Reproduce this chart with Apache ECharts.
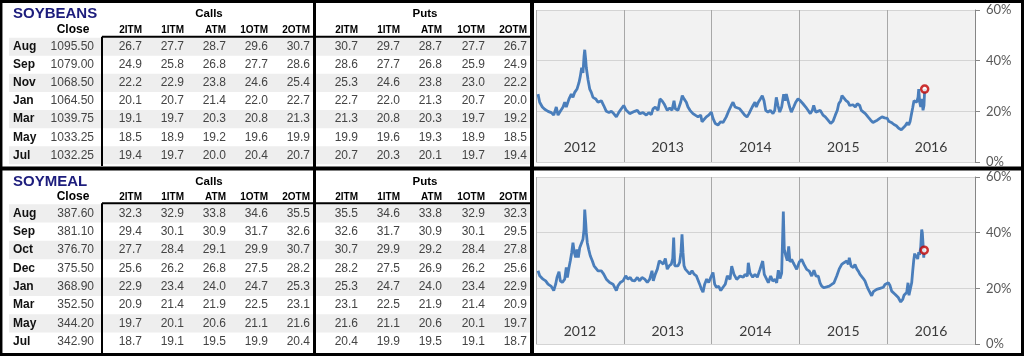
<!DOCTYPE html>
<html><head><meta charset="utf-8">
<script src="https://cdn.jsdelivr.net/npm/echarts@6/dist/echarts.min.js"></script>
<style>html,body{margin:0;padding:0;background:#fff}#c{width:1024px;height:356px}</style>
</head><body><div id="c"></div>
<script>
const strikeLabels = ['2ITM', '1ITM', 'ATM', '1OTM', '2OTM'];
const yearLabels = ['2012', '2013', '2014', '2015', '2016'];

const soybeanMonths = ['Aug', 'Sep', 'Nov', 'Jan', 'Mar', 'May', 'Jul'];
const soybeanClose = [1095.50, 1079.00, 1068.50, 1064.50, 1039.75, 1033.25, 1032.25];
const soybeanCalls = [
  [26.7, 27.7, 28.7, 29.6, 30.7],
  [24.9, 25.8, 26.8, 27.7, 28.6],
  [22.2, 22.9, 23.8, 24.6, 25.4],
  [20.1, 20.7, 21.4, 22.0, 22.7],
  [19.1, 19.7, 20.3, 20.8, 21.3],
  [18.5, 18.9, 19.2, 19.6, 19.9],
  [19.4, 19.7, 20.0, 20.4, 20.7]
];
const soybeanPuts = [
  [30.7, 29.7, 28.7, 27.7, 26.7],
  [28.6, 27.7, 26.8, 25.9, 24.9],
  [25.3, 24.6, 23.8, 23.0, 22.2],
  [22.7, 22.0, 21.3, 20.7, 20.0],
  [21.3, 20.8, 20.3, 19.7, 19.2],
  [19.9, 19.6, 19.3, 18.9, 18.5],
  [20.7, 20.3, 20.1, 19.7, 19.4]
];

const soymealMonths = ['Aug', 'Sep', 'Oct', 'Dec', 'Jan', 'Mar', 'May', 'Jul'];
const soymealClose = [387.60, 381.10, 376.70, 375.50, 368.90, 352.50, 344.20, 342.90];
const soymealCalls = [
  [32.3, 32.9, 33.8, 34.6, 35.5],
  [29.4, 30.1, 30.9, 31.7, 32.6],
  [27.7, 28.4, 29.1, 29.9, 30.7],
  [25.6, 26.2, 26.8, 27.5, 28.2],
  [22.9, 23.4, 24.0, 24.7, 25.3],
  [20.9, 21.4, 21.9, 22.5, 23.1],
  [19.7, 20.1, 20.6, 21.1, 21.6],
  [18.7, 19.1, 19.5, 19.9, 20.4]
];
const soymealPuts = [
  [35.5, 34.6, 33.8, 32.9, 32.3],
  [32.6, 31.7, 30.9, 30.1, 29.5],
  [30.7, 29.9, 29.2, 28.4, 27.8],
  [28.2, 27.5, 26.9, 26.2, 25.6],
  [25.3, 24.7, 24.0, 23.4, 22.9],
  [23.1, 22.5, 21.9, 21.4, 20.9],
  [21.6, 21.1, 20.6, 20.1, 19.7],
  [20.4, 19.9, 19.5, 19.1, 18.7]
];

// implied volatility history, [decimal year, %]
const soybeansVol = [
[2012.023,26.8],[2012.042,23.6],[2012.072,21.7],[2012.099,20.8],[2012.137,20.0],[2012.174,19.5],[2012.202,18.5],[2012.231,21.7],[2012.251,18.5],[2012.277,20.0],[2012.308,21.7],[2012.327,23.6],[2012.345,21.7],[2012.376,24.9],[2012.402,26.8],[2012.421,25.5],[2012.441,27.5],[2012.467,28.8],[2012.490,31.4],[2012.505,33.9],[2012.520,37.2],[2012.535,35.2],[2012.547,41.7],[2012.555,44.3],[2012.566,40.4],[2012.573,37.2],[2012.592,32.6],[2012.612,28.8],[2012.630,27.5],[2012.649,25.5],[2012.680,24.9],[2012.706,23.6],[2012.744,24.2],[2012.771,22.3],[2012.801,20.0],[2012.831,19.5],[2012.858,20.0],[2012.885,19.1],[2012.915,17.8],[2012.945,19.7],[2012.972,21.0],[2012.999,22.3],
[2013.028,20.4],[2013.067,19.1],[2013.085,18.7],[2013.124,20.0],[2013.154,20.4],[2013.181,19.1],[2013.219,19.5],[2013.256,18.5],[2013.284,19.5],[2013.313,18.7],[2013.333,21.0],[2013.359,21.7],[2013.390,20.4],[2013.412,24.9],[2013.435,24.2],[2013.458,23.0],[2013.473,23.6],[2013.495,20.4],[2013.523,21.3],[2013.549,20.4],[2013.572,24.2],[2013.587,21.0],[2013.617,20.4],[2013.648,23.6],[2013.666,26.2],[2013.686,24.9],[2013.712,23.6],[2013.731,21.7],[2013.754,20.4],[2013.769,21.0],[2013.788,19.1],[2013.814,18.5],[2013.845,17.8],[2013.876,18.5],[2013.891,15.9],[2013.913,16.5],[2013.940,17.8],[2013.967,18.5],[2013.997,19.7],
[2014.016,17.2],[2014.042,15.2],[2014.073,14.6],[2014.104,15.9],[2014.130,15.6],[2014.149,15.2],[2014.167,17.8],[2014.198,20.4],[2014.224,22.3],[2014.244,23.6],[2014.267,21.7],[2014.289,22.3],[2014.320,21.0],[2014.350,19.7],[2014.377,18.5],[2014.403,17.8],[2014.426,19.1],[2014.452,21.0],[2014.472,22.3],[2014.494,23.6],[2014.509,21.7],[2014.532,23.6],[2014.555,24.9],[2014.577,26.2],[2014.597,24.2],[2014.616,20.4],[2014.642,19.7],[2014.669,20.4],[2014.699,19.1],[2014.719,20.4],[2014.737,25.5],[2014.756,22.3],[2014.776,19.7],[2014.798,21.7],[2014.821,26.8],[2014.836,24.2],[2014.851,26.8],[2014.870,24.2],[2014.889,21.7],[2014.908,19.7],[2014.935,21.7],[2014.958,23.6],[2014.984,24.9],
[2015.010,24.2],[2015.041,23.0],[2015.072,21.7],[2015.098,20.4],[2015.124,19.1],[2015.147,20.4],[2015.163,22.3],[2015.186,19.7],[2015.238,20.4],[2015.269,18.5],[2015.295,17.8],[2015.326,16.5],[2015.356,15.2],[2015.383,16.1],[2015.409,18.5],[2015.432,20.4],[2015.448,23.0],[2015.470,24.2],[2015.485,26.2],[2015.508,25.2],[2015.531,24.2],[2015.554,23.6],[2015.573,22.3],[2015.591,21.7],[2015.610,22.6],[2015.637,21.7],[2015.659,23.0],[2015.687,22.3],[2015.705,20.4],[2015.724,21.0],[2015.751,19.1],[2015.781,17.8],[2015.812,16.5],[2015.838,15.6],[2015.864,16.1],[2015.887,16.5],[2015.915,17.2],[2015.941,17.8],[2015.971,17.4],
[2016.001,17.2],[2016.017,16.1],[2016.047,15.6],[2016.077,14.8],[2016.104,14.3],[2016.131,13.3],[2016.161,12.7],[2016.183,13.3],[2016.206,14.3],[2016.229,15.6],[2016.245,14.6],[2016.260,15.9],[2016.274,18.5],[2016.290,21.3],[2016.305,24.2],[2016.320,24.9],[2016.336,23.6],[2016.351,25.5],[2016.359,28.8],[2016.370,23.6],[2016.382,21.7],[2016.396,24.9],[2016.408,20.4],[2016.419,22.3],[2016.427,28.8]
];
const soymealVol = [
[2012.023,26.3],[2012.042,24.5],[2012.060,25.1],[2012.080,23.3],[2012.110,22.7],[2012.137,21.5],[2012.174,20.7],[2012.202,19.2],[2012.224,21.5],[2012.239,23.9],[2012.262,26.0],[2012.277,22.7],[2012.300,22.1],[2012.327,23.3],[2012.345,27.5],[2012.357,23.9],[2012.376,27.5],[2012.391,29.9],[2012.407,32.9],[2012.421,36.4],[2012.436,32.9],[2012.452,31.1],[2012.467,34.0],[2012.482,31.1],[2012.498,34.6],[2012.516,35.2],[2012.535,37.6],[2012.547,41.2],[2012.555,48.3],[2012.566,43.6],[2012.573,40.0],[2012.584,36.4],[2012.600,34.0],[2012.618,31.7],[2012.641,29.9],[2012.661,28.1],[2012.680,27.5],[2012.706,26.3],[2012.744,26.3],[2012.771,25.1],[2012.801,23.3],[2012.839,22.1],[2012.877,21.5],[2012.915,19.2],[2012.934,20.9],[2012.960,22.1],[2012.991,22.7],
[2013.022,24.5],[2013.048,23.3],[2013.074,23.9],[2013.093,22.9],[2013.124,22.7],[2013.154,23.9],[2013.181,22.7],[2013.207,23.9],[2013.238,23.3],[2013.268,22.1],[2013.295,23.3],[2013.321,26.3],[2013.336,22.7],[2013.359,25.1],[2013.382,26.9],[2013.404,29.9],[2013.427,29.3],[2013.450,28.7],[2013.473,30.7],[2013.495,26.9],[2013.518,28.1],[2013.541,28.7],[2013.557,30.7],[2013.568,38.2],[2013.580,28.1],[2013.595,27.5],[2013.617,28.1],[2013.636,29.3],[2013.651,32.9],[2013.663,39.4],[2013.674,32.9],[2013.686,28.1],[2013.701,26.9],[2013.723,26.3],[2013.751,25.1],[2013.777,26.3],[2013.800,25.1],[2013.826,24.5],[2013.845,24.8],[2013.864,21.5],[2013.883,19.8],[2013.902,18.6],[2013.921,21.5],[2013.944,23.3],[2013.967,22.1],[2013.990,23.9],
[2014.016,25.7],[2014.035,21.5],[2014.053,20.4],[2014.081,20.7],[2014.104,19.2],[2014.130,20.4],[2014.156,21.5],[2014.179,24.5],[2014.210,23.2],[2014.229,28.0],[2014.255,25.0],[2014.286,23.2],[2014.323,24.4],[2014.361,24.0],[2014.380,25.0],[2014.407,24.4],[2014.418,29.2],[2014.437,25.5],[2014.468,24.0],[2014.494,25.0],[2014.521,24.0],[2014.551,26.8],[2014.582,29.8],[2014.600,25.0],[2014.628,23.2],[2014.646,22.0],[2014.673,24.4],[2014.696,22.6],[2014.722,23.2],[2014.741,22.0],[2014.760,26.5],[2014.779,23.5],[2014.798,25.5],[2014.817,47.6],[2014.828,34.0],[2014.847,31.5],[2014.862,30.0],[2014.878,35.1],[2014.893,29.5],[2014.912,30.4],[2014.930,29.2],[2014.950,28.0],[2014.969,26.8],[2014.999,29.5],
[2015.026,30.4],[2015.052,28.6],[2015.083,26.8],[2015.113,26.2],[2015.140,24.4],[2015.166,26.5],[2015.189,24.4],[2015.215,24.4],[2015.235,22.0],[2015.254,20.8],[2015.280,20.2],[2015.311,20.5],[2015.341,20.8],[2015.368,21.4],[2015.394,22.0],[2015.425,24.4],[2015.454,27.0],[2015.482,28.6],[2015.508,29.2],[2015.539,29.8],[2015.557,28.6],[2015.568,31.0],[2015.588,28.0],[2015.614,27.5],[2015.633,28.6],[2015.653,27.0],[2015.671,26.2],[2015.690,25.0],[2015.710,24.4],[2015.728,23.5],[2015.747,22.6],[2015.766,21.0],[2015.785,19.6],[2015.804,18.5],[2015.823,17.3],[2015.842,18.8],[2015.861,18.5],[2015.880,19.6],[2015.899,20.2],[2015.918,20.0],[2015.937,19.6],[2015.956,20.4],[2015.975,21.4],[2015.994,22.0],
[2016.013,22.0],[2016.032,21.0],[2016.051,19.0],[2016.069,18.5],[2016.089,17.9],[2016.108,17.3],[2016.126,16.7],[2016.154,15.1],[2016.177,16.0],[2016.191,17.5],[2016.206,17.9],[2016.222,18.5],[2016.237,22.0],[2016.248,17.5],[2016.263,17.3],[2016.279,22.0],[2016.290,26.0],[2016.302,30.0],[2016.313,32.5],[2016.325,31.0],[2016.336,32.0],[2016.347,30.5],[2016.359,33.0],[2016.370,32.0],[2016.382,35.0],[2016.393,41.1],[2016.400,40.0],[2016.408,36.0],[2016.416,31.0],[2016.422,33.7]
];

const FONT = '"Liberation Sans", Arial, sans-serif';
const CHART_FONT = 'Lato, "Open Sans", sans-serif';
const callRight = [142, 184, 226, 268, 310];
const putRight = [358, 400, 442, 485, 527];
const els = [];
function txt(x, y, s, opt) {
  els.push({ type: 'text', x: x, y: y, z: 10, silent: true,
    style: Object.assign({ text: s, fill: '#444444', font: '12px ' + FONT, align: 'right', verticalAlign: 'middle' }, opt || {}) });
}
function line(x1, y1, x2, y2, w) {
  els.push({ type: 'line', z: 20, silent: true, shape: { x1: x1, y1: y1, x2: x2, y2: y2 }, style: { stroke: '#000', lineWidth: w } });
}
function rect(x, y, w, h, fill) {
  els.push({ type: 'rect', z: 5, silent: true, shape: { x: x, y: y, width: w, height: h }, style: { fill: fill } });
}
function table(p) {
  txt(13, p.titleY, p.title, { fill: '#1c1c7c', font: 'bold 15px ' + FONT, align: 'left' });
  txt(209, p.titleY, 'Calls', { fill: '#000', font: 'bold 11.5px ' + FONT, align: 'center' });
  txt(425, p.titleY, 'Puts', { fill: '#000', font: 'bold 11.5px ' + FONT, align: 'center' });
  txt(73, p.headY, 'Close', { fill: '#000', font: 'bold 12px ' + FONT, align: 'center' });
  strikeLabels.forEach(function (s, i) {
    txt(callRight[i], p.headY, s, { fill: '#000', font: 'bold 10px ' + FONT });
    txt(putRight[i], p.headY, s, { fill: '#000', font: 'bold 10px ' + FONT });
  });
  p.months.forEach(function (m, r) {
    const y = p.rowY0 + r * p.rowH;
    if (r % 2 === 0) {
      rect(9, y - p.rowH / 2, 305, p.rowH, '#eeeeee');
      rect(316, y - p.rowH / 2, 215, p.rowH, '#eeeeee');
    }
    txt(13, y, m, { fill: '#111', font: 'bold 12px ' + FONT, align: 'left' });
    txt(94, y, p.close[r].toFixed(2));
    p.calls[r].forEach(function (v, i) { txt(callRight[i], y, v.toFixed(1)); });
    p.puts[r].forEach(function (v, i) { txt(putRight[i], y, v.toFixed(1)); });
  });
  line(102, p.lineY, 314, p.lineY, 2);
  line(316, p.lineY, 531, p.lineY, 2);
  line(102, p.lineY, 102, p.bottom, 2);
}
table({ title: 'SOYBEANS', months: soybeanMonths, close: soybeanClose, calls: soybeanCalls, puts: soybeanPuts,
  titleY: 14, headY: 30, lineY: 36.7, rowY0: 46.7, rowH: 18.1, bottom: 166 });
table({ title: 'SOYMEAL', months: soymealMonths, close: soymealClose, calls: soymealCalls, puts: soymealPuts,
  titleY: 181.5, headY: 197, lineY: 203.3, rowY0: 213.3, rowH: 18.35, bottom: 353 });

// frame
line(0, 1.5, 1024, 1.5, 3);
line(1.2, 0, 1.2, 356, 2.5);
line(1022.5, 0, 1022.5, 356, 3);
line(0, 354.5, 1024, 354.5, 3);
line(0, 168.5, 1024, 168.5, 4);
line(314.5, 0, 314.5, 356, 3);
line(532, 0, 532, 356, 4);

function grid(top, height) {
  return { left: 536, top: top, width: 439, height: height, show: true, backgroundColor: '#f2f2f2', borderWidth: 0, containLabel: false, outerBoundsMode: 'none' };
}
function catAxis(gi, margin) {
  return { type: 'category', gridIndex: gi, data: yearLabels, boundaryGap: true, position: 'bottom',
    axisLine: { show: false }, axisTick: { show: false },
    splitLine: { show: true, lineStyle: { color: '#a8a8a8', width: 1 } },
    axisLabel: { inside: true, margin: margin, color: '#3a3a3a', fontSize: 14, fontFamily: CHART_FONT } };
}
function valX(gi) {
  return { type: 'value', gridIndex: gi, min: 2012, max: 2017, show: false };
}
function yAx(gi) {
  return { type: 'value', gridIndex: gi, position: 'right', min: 0, max: 60, interval: 20,
    axisLine: { show: true, lineStyle: { color: '#868686', width: 1 } },
    axisTick: { show: true, length: 5, lineStyle: { color: '#868686' } },
    axisLabel: { formatter: '{value}%', margin: 11, color: '#595959', fontSize: 13, fontFamily: CHART_FONT },
    splitLine: { show: true, lineStyle: { color: '#d4d4d4', width: 1 } } };
}
function volSeries(data, xi, yi) {
  return [
    { type: 'line', xAxisIndex: xi, yAxisIndex: yi, data: data, showSymbol: false, z: 3,
      lineStyle: { color: '#4a7ebb', width: 2.8 }, itemStyle: { color: '#4a7ebb' } },
    { type: 'scatter', xAxisIndex: xi, yAxisIndex: yi, data: [data[data.length - 1]], z: 4,
      symbol: 'circle', symbolSize: 7,
      itemStyle: { color: '#ffffff', borderColor: '#c00000', borderWidth: 2.5 } }
  ];
}

const chart = echarts.init(document.getElementById('c'), null, { renderer: 'canvas' });
chart.setOption({
  animation: false,
  backgroundColor: '#ffffff',
  grid: [grid(10, 152), grid(177, 167)],
  xAxis: [catAxis(0, 8), valX(0), catAxis(1, 6), valX(1)],
  yAxis: [yAx(0), yAx(1)],
  series: volSeries(soybeansVol, 1, 0).concat(volSeries(soymealVol, 3, 1)),
  graphic: { elements: els }
});
</script>
</body></html>
